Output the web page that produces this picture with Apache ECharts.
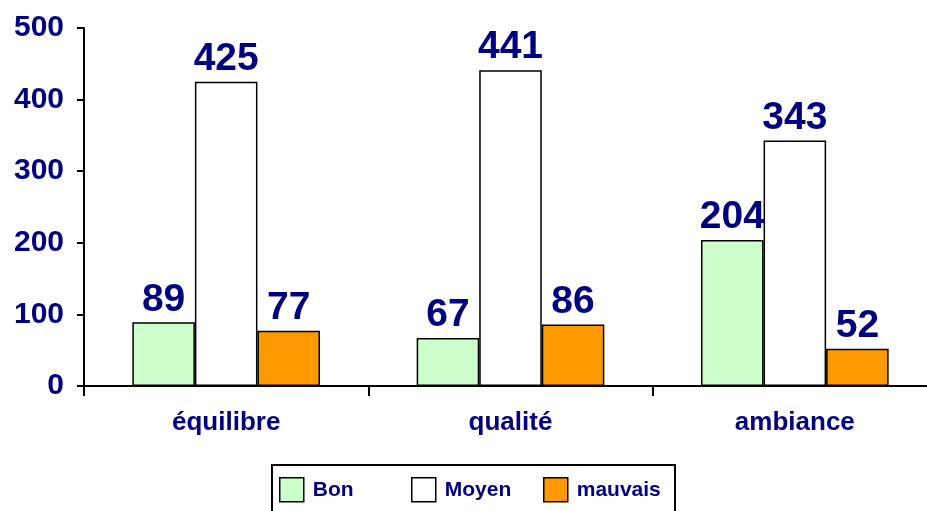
<!DOCTYPE html>
<html>
<head>
<meta charset="utf-8">
<script src="https://cdn.jsdelivr.net/npm/echarts@6/dist/echarts.min.js"></script>
<style>
  html, body { margin: 0; padding: 0; background: #fff; overflow: hidden; }
  /* a bit wider than the window: the last category runs past the right edge */
  #chart { width: 940px; height: 511px; }
</style>
</head>
<body>
<div id="chart"></div>
<script>
const categories = ['équilibre', 'qualité', 'ambiance']
const bon = [89, 67, 204]
const moyen = [425, 441, 343]
const mauvais = [77, 86, 52]
const yTicks = [0, 100, 200, 300, 400, 500]
const seriesNames = ['Bon', 'Moyen', 'mauvais']
const seriesColors = ['#CCFFCC', '#FFFFFF', '#FF9900']

const navy = '#000080'
const font = 'Liberation Sans'

const chart = echarts.init(document.getElementById('chart'))

// label style shared by the 3 series
const valueLabel = {
  show: true,
  position: 'top',
  distance: 3,
  color: navy,
  fontFamily: font,
  fontWeight: 'bold',
  fontSize: 39
}

const makeSeries = (name, data, color) => ({
  name: name,
  type: 'bar',
  data: data,
  barGap: '0%',
  barCategoryGap: '34%',
  itemStyle: { color: color, borderColor: '#000', borderWidth: 1.5 },
  label: valueLabel
})

// one legend per entry so each one sits where excel put it
const legendLeft = [279, 411, 543]
const legends = seriesNames.map((name, i) => ({
  top: 477,
  left: legendLeft[i],
  padding: 0,
  itemWidth: 24,
  itemHeight: 24,
  icon: 'rect',
  itemStyle: { borderColor: '#000', borderWidth: 1.5 },
  textStyle: { color: navy, fontFamily: font, fontWeight: 'bold', fontSize: 21, padding: [0, 0, 0, 4] },
  data: [name]
}))

chart.setOption({
  animation: false,
  grid: { left: 84, right: 3, top: 28, bottom: 125 },
  legend: legends,
  graphic: [{
    type: 'rect',
    shape: { x: 272, y: 465, width: 403, height: 60 },
    style: { fill: 'none', stroke: '#000', lineWidth: 2 }
  }],
  xAxis: {
    type: 'category',
    data: categories,
    axisLine: { lineStyle: { color: '#000', width: 2 } },
    axisTick: { show: true, length: 10, lineStyle: { color: '#000', width: 2 } },
    axisLabel: {
      color: navy, fontFamily: font, fontWeight: 'bold', fontSize: 26, margin: 24
    }
  },
  yAxis: {
    type: 'value',
    min: yTicks[0],
    max: yTicks[yTicks.length - 1],
    interval: 100,
    splitLine: { show: false },
    axisLine: { show: true, lineStyle: { color: '#000', width: 2 } },
    axisTick: { show: true, length: 7, lineStyle: { color: '#000', width: 2 } },
    axisLabel: {
      color: navy, fontFamily: font, fontWeight: 'bold', fontSize: 30, margin: 20
    }
  },
  series: seriesNames.map((name, i) => makeSeries(name, [bon, moyen, mauvais][i], seriesColors[i]))
})
</script>
</body>
</html>
